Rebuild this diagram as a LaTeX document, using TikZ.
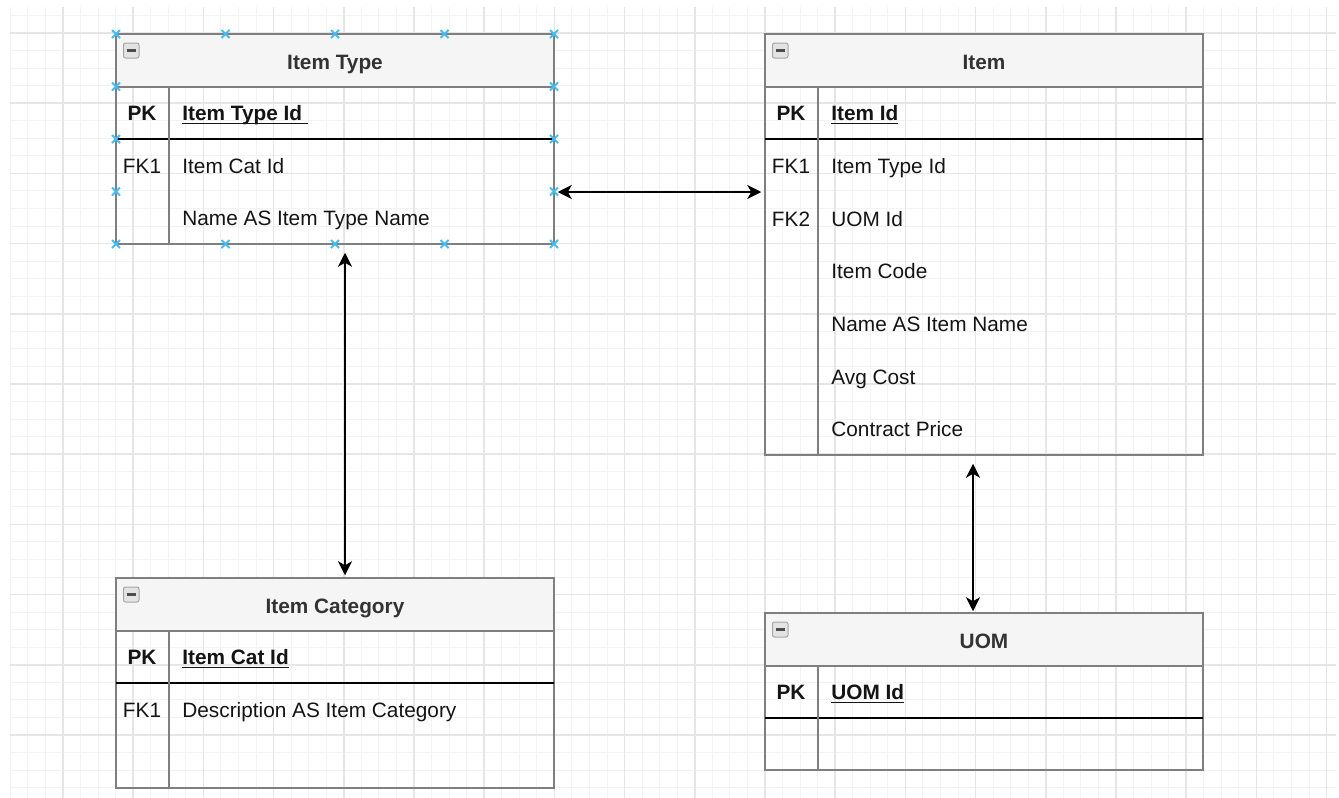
\documentclass[tikz,border=0pt]{standalone}
\usepackage{fontspec}
\setmainfont{Liberation Sans}
\usetikzlibrary{arrows.meta}

\newcommand{\tfont}{\fontsize{10.4}{12.5}\selectfont}
\newsavebox{\ulbox}
\newcommand{\keyul}[1]{\sbox{\ulbox}{#1}\rlap{\rule[-2pt]{\wd\ulbox}{0.7pt}}\usebox{\ulbox}}

\definecolor{gridminor}{HTML}{F3F3F3}
\definecolor{gridmajor}{HTML}{E6E6E6}
\definecolor{tblborder}{HTML}{7F7F7F}
\definecolor{tblfill}{HTML}{F5F5F5}
\definecolor{selblue}{HTML}{45BDF2}
\definecolor{titletext}{HTML}{333333}

\tikzset{
  tbl/.style={draw=tblborder, line width=0.75pt, minimum width=219pt, inner sep=0pt},
  tblhead/.style={tbl, fill=tblfill, minimum height=26.5pt, font=\tfont\bfseries, text=titletext,
    text height=9.5pt, text depth=1pt},
  sepline/.style={draw=tblborder, line width=0.75pt},
  pkline/.style={black, line width=0.75pt},
  keytxt/.style={inner sep=0pt, font=\tfont, text=black!92, text height=8.5pt, text depth=1.5pt},
  fldtxt/.style={keytxt, anchor=west},
  pktxt/.style={keytxt, font=\tfont\bfseries},
  pkfld/.style={fldtxt, font=\tfont\bfseries},
  collapse/.style={draw=gray!70, fill=gray!22, line width=0.5pt, rounded corners=1pt},
  selx/.style={selblue, line width=0.9pt},
  rel/.style={{Stealth[length=7pt,width=7pt,inset=2pt]}-{Stealth[length=7pt,width=7pt,inset=2pt]}, line width=0.9pt}
}

\begin{document}
\begin{tikzpicture}[x=0.5pt,y=-0.5pt]
\useasboundingbox (0,0) rectangle (1339,798);

% grid
\begin{scope}
\clip (10,7) rectangle (1336,798);
\foreach \k in {0,...,75} \draw[gridminor, line width=0.5pt] ({10.35+17.55*\k},7) -- ({10.35+17.55*\k},798);
\foreach \k in {0,...,44} \draw[gridminor, line width=0.5pt] (10,{15.45+17.55*\k}) -- (1336,{15.45+17.55*\k});
\foreach \k in {0,...,18} \draw[gridmajor, line width=0.75pt] ({63+70.2*\k},7) -- ({63+70.2*\k},798);
\foreach \k in {0,...,10} \draw[gridmajor, line width=0.75pt] (10,{33+70.2*\k}) -- (1336,{33+70.2*\k});
\end{scope}

% Item Type
\node[tbl, minimum height=105pt] (itype) at (335,139) {};
\node[tblhead, anchor=north] (itype-h) at (itype.north) {Item Type};
\draw[pkline] (116,139) -- (554,139);
\draw[sepline] (169,87) -- (169,244);
\node[pktxt] (itype-pk) at (142,113) {PK};
\node[pkfld] (itype-id) at (182,113) {\keyul{Item Type Id\ }};
\node[keytxt] (itype-k1) at (142,166) {FK1};
\node[fldtxt] (itype-f1) at (182,166) {Item Cat Id};
\node[fldtxt] (itype-f2) at (182,218) {Name AS Item Type Name};

% Item
\node[tbl, minimum height=210.5pt] (item) at (984,244.5) {};
\node[tblhead, anchor=north] (item-h) at (item.north) {Item};
\draw[pkline] (765,139) -- (1203,139);
\draw[sepline] (818,87) -- (818,455);
\node[pktxt] (item-pk) at (791,113) {PK};
\node[pkfld] (item-id) at (831,113) {\keyul{Item Id}};
\node[keytxt] (item-k1) at (791,166) {FK1};
\node[fldtxt] (item-f1) at (831,166) {Item Type Id};
\node[keytxt] (item-k2) at (791,219) {FK2};
\node[fldtxt] (item-f2) at (831,219) {UOM Id};
\node[fldtxt] (item-f3) at (831,271) {Item Code};
\node[fldtxt] (item-f4) at (831,324) {Name AS Item Name};
\node[fldtxt] (item-f5) at (831,377) {Avg Cost};
\node[fldtxt] (item-f6) at (831,429) {Contract Price};

% Item Category
\node[tbl, minimum height=105pt] (icat) at (335,683) {};
\node[tblhead, anchor=north] (icat-h) at (icat.north) {Item Category};
\draw[pkline] (116,683) -- (554,683);
\draw[sepline] (169,631) -- (169,788);
\node[pktxt] (icat-pk) at (142,657) {PK};
\node[pkfld] (icat-id) at (182,657) {\keyul{Item Cat Id}};
\node[keytxt] (icat-k1) at (142,710) {FK1};
\node[fldtxt] (icat-f1) at (182,710) {Description AS Item Category};

% UOM
\node[tbl, minimum height=78.5pt] (uom) at (984,691.5) {};
\node[tblhead, anchor=north] (uom-h) at (uom.north) {UOM};
\draw[pkline] (765,718) -- (1203,718);
\draw[sepline] (818,666) -- (818,770);
\node[pktxt] (uom-pk) at (791,692) {PK};
\node[pkfld] (uom-id) at (831,692) {\keyul{UOM Id}};

% collapse buttons
\foreach \cx/\cy in {116/34, 765/34, 116/578, 765/613}
{
    \draw[collapse] (\cx+7.5,\cy+9) rectangle (\cx+23,\cy+24);
    \draw[line width=1.1pt, black!70] (\cx+11,\cy+16.5) -- (\cx+19.5,\cy+16.5);
}

% relations
\draw[rel, shorten <=1.5pt, shorten >=1.5pt] ([yshift=-26.5pt]itype.east) -- ([yshift=-26.5pt]itype.east -| item.west);
\draw[rel, shorten <=4pt, shorten >=1pt] ([xshift=5pt]itype.south) -- ([xshift=5pt]icat.north);
\draw[rel, shorten <=4pt, shorten >=0.5pt] ([xshift=-5.5pt]item.south) -- ([xshift=-5.5pt]uom.north);

% selection handles
\foreach \sx in {116,225.5,335,444.5,554} \foreach \sy in {34,244}
    \draw[selx] (\sx-4,\sy-4) -- (\sx+4,\sy+4) (\sx-4,\sy+4) -- (\sx+4,\sy-4);
\foreach \sx in {116,554} \foreach \sy in {86.5,139,191.5}
    \draw[selx] (\sx-4,\sy-4) -- (\sx+4,\sy+4) (\sx-4,\sy+4) -- (\sx+4,\sy-4);
\end{tikzpicture}
\end{document}
